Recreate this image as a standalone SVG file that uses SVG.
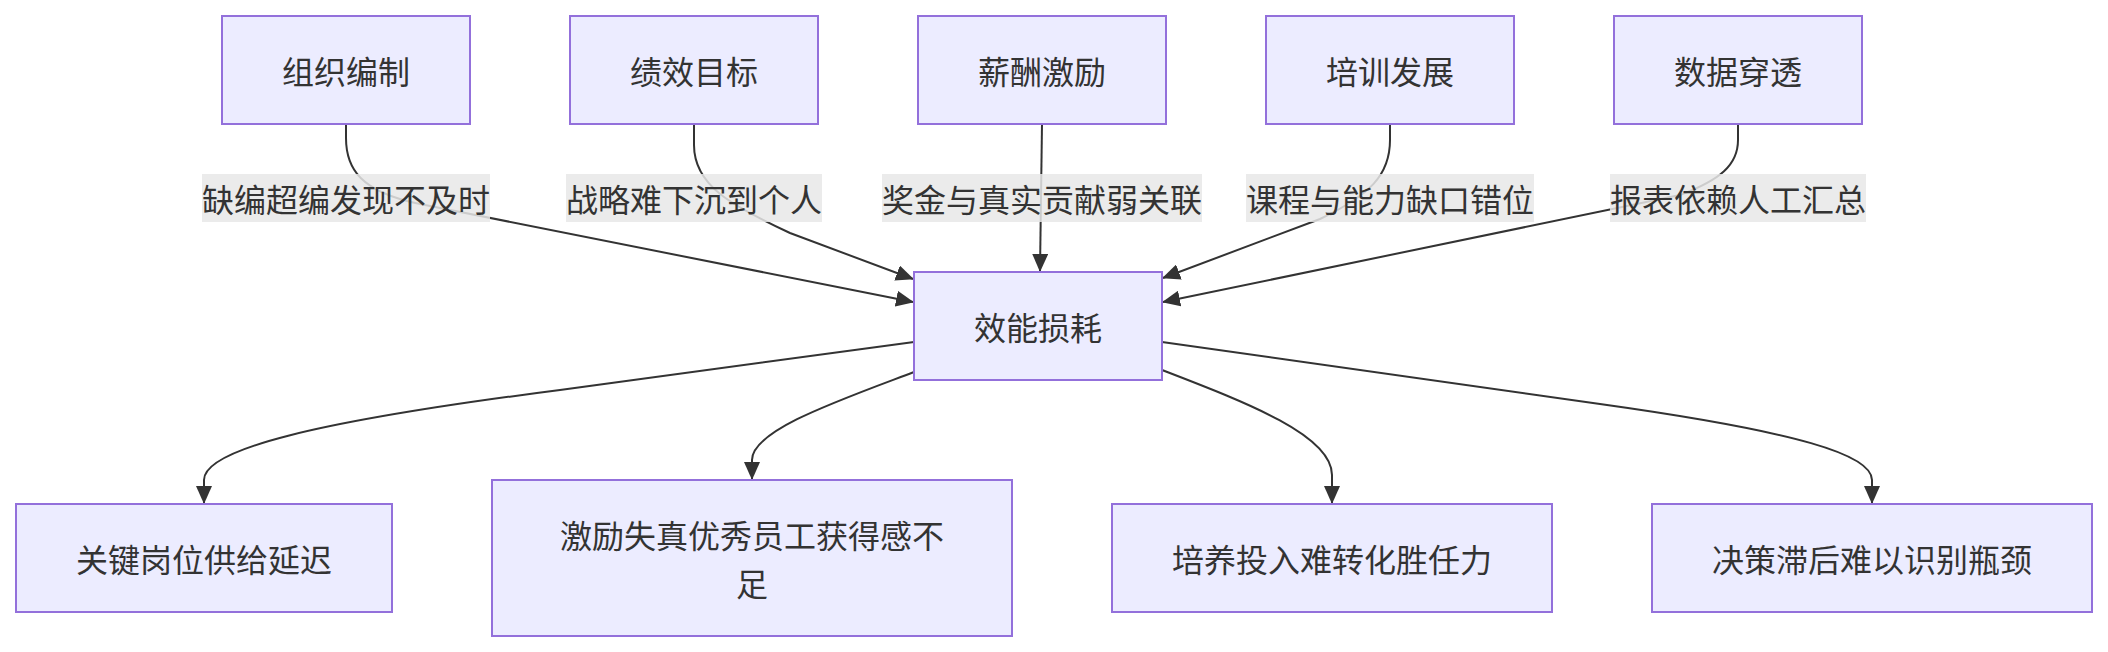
<svg xmlns="http://www.w3.org/2000/svg" width="2108" height="652" viewBox="0 0 2108 652">
<style>
.node rect{fill:#ECECFF;stroke:#9370DB;stroke-width:2}
text{font-family:"Noto Sans CJK SC","Liberation Sans",sans-serif;font-size:32px;fill:#333;text-anchor:middle;dominant-baseline:central}
.edge{fill:none;stroke:#333;stroke-width:2}
.lbl rect{fill:#e8e8e8;fill-opacity:0.85}
</style>
<defs>
<marker id="arr" markerUnits="userSpaceOnUse" markerWidth="18" markerHeight="16" refX="17" refY="8" orient="auto">
<path d="M0,0 L18,8 L0,16 z" fill="#333"/>
</marker>
</defs>
<rect width="2108" height="652" fill="#fff"/>
<g id="connectors">
<path class="edge" marker-end="url(#arr)" d="M346,124 L346,138 C346,168 360,192 420,204 L913,302"/>
<path class="edge" marker-end="url(#arr)" d="M694,124 L694,145 C694,185 730,205 790,233 L913,279"/>
<path class="edge" marker-end="url(#arr)" d="M1042,124 L1040,271"/>
<path class="edge" marker-end="url(#arr)" d="M1390,124 L1390,140 C1390,175 1370,195 1320,219 L1163,278"/>
<path class="edge" marker-end="url(#arr)" d="M1738,124 L1738,140 C1738,165 1720,180 1680,195 L1163,302"/>
<path class="edge" marker-end="url(#arr)" d="M914,342 L560,390 C310,422 204,450 204,480 L204,503"/>
<path class="edge" marker-end="url(#arr)" d="M914,372 C840,400 752,430 752,460 L752,479"/>
<path class="edge" marker-end="url(#arr)" d="M1162,370 C1245,402 1332,435 1332,475 L1332,503"/>
<path class="edge" marker-end="url(#arr)" d="M1162,342 L1600,404 C1800,432 1872,455 1872,480 L1872,503"/>
<g class="lbl"><rect x="202" y="174" width="288" height="48"/><text x="346" y="198">缺编超编发现不及时</text></g>
<g class="lbl"><rect x="566" y="174" width="256" height="48"/><text x="694" y="198">战略难下沉到个人</text></g>
<g class="lbl"><rect x="882" y="174" width="320" height="48"/><text x="1042" y="198">奖金与真实贡献弱关联</text></g>
<g class="lbl"><rect x="1246" y="174" width="288" height="48"/><text x="1390" y="198">课程与能力缺口错位</text></g>
<g class="lbl"><rect x="1610" y="174" width="256" height="48"/><text x="1738" y="198">报表依赖人工汇总</text></g>
</g>
<g id="n1" class="node"><rect x="222" y="16" width="248" height="108"/><text x="346" y="70">组织编制</text></g>
<g id="n2" class="node"><rect x="570" y="16" width="248" height="108"/><text x="694" y="70">绩效目标</text></g>
<g id="n3" class="node"><rect x="918" y="16" width="248" height="108"/><text x="1042" y="70">薪酬激励</text></g>
<g id="n4" class="node"><rect x="1266" y="16" width="248" height="108"/><text x="1390" y="70">培训发展</text></g>
<g id="n5" class="node"><rect x="1614" y="16" width="248" height="108"/><text x="1738" y="70">数据穿透</text></g>
<g id="center" class="node"><rect x="914" y="272" width="248" height="108"/><text x="1038" y="326">效能损耗</text></g>
<g id="o1" class="node"><rect x="16" y="504" width="376" height="108"/><text x="204" y="558">关键岗位供给延迟</text></g>
<g id="o2" class="node"><rect x="492" y="480" width="520" height="156"/><text x="752" y="534">激励失真优秀员工获得感不</text><text x="752" y="582">足</text></g>
<g id="o3" class="node"><rect x="1112" y="504" width="440" height="108"/><text x="1332" y="558">培养投入难转化胜任力</text></g>
<g id="o4" class="node"><rect x="1652" y="504" width="440" height="108"/><text x="1872" y="558">决策滞后难以识别瓶颈</text></g>
</svg>
